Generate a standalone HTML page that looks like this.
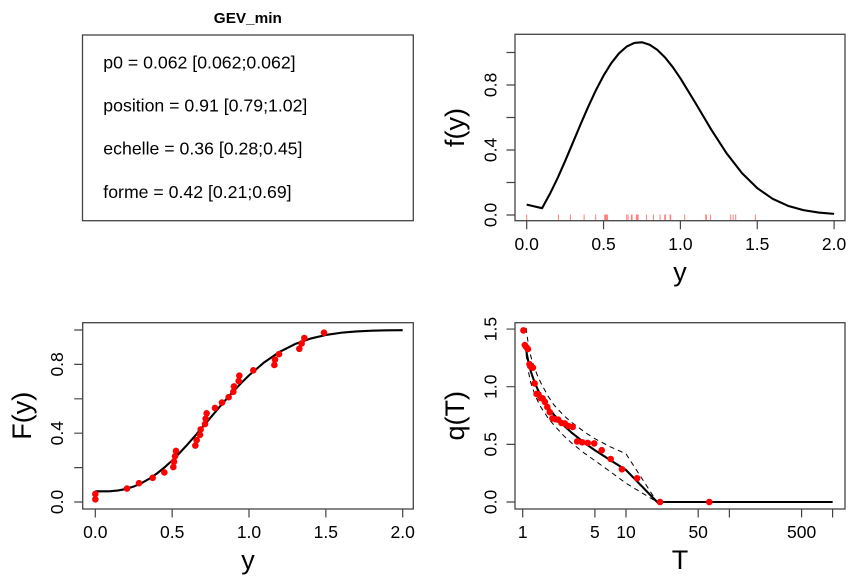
<!DOCTYPE html>
<html><head><meta charset="utf-8"><style>html,body{margin:0;padding:0;background:#fff}svg{display:block}</style></head>
<body>
<svg width="864" height="576" viewBox="0 0 864 576" xmlns="http://www.w3.org/2000/svg" font-family="'Liberation Sans', Arial, sans-serif">
<rect width="864" height="576" fill="#fff"/>

<!-- ===== Top-left: parameter box ===== -->
<text x="247.8" y="23" font-size="15" font-weight="bold" text-anchor="middle" textLength="68" lengthAdjust="spacingAndGlyphs">GEV_min</text>
<rect x="82.5" y="35" width="330.8" height="185.7" fill="none" stroke="#444" stroke-width="1.3"/>
<g font-size="17.7" fill="#000">
<text x="103.3" y="68.3">p0 = 0.062 [0.062;0.062]</text>
<text x="103.3" y="111.5">position = 0.91 [0.79;1.02]</text>
<text x="103.3" y="154.7">echelle = 0.36 [0.28;0.45]</text>
<text x="103.3" y="197.8">forme = 0.42 [0.21;0.69]</text>
</g>

<!-- ===== Top-right: density ===== -->
<g stroke="red" stroke-opacity="0.5" stroke-width="1">
<path d="M526.7 214.5V220.7M526.7 214.5V220.7M558.4 214.5V220.7M570.4 214.5V220.7M584.1 214.5V220.7M595.7 214.5V220.7M604.7 214.5V220.7M605.4 214.5V220.7M606.4 214.5V220.7M607.4 214.5V220.7M626.7 214.5V220.7M628.1 214.5V220.7M631.4 214.5V220.7M632.1 214.5V220.7M636.4 214.5V220.7M637.1 214.5V220.7M638.1 214.5V220.7M646.4 214.5V220.7M653.4 214.5V220.7M660.1 214.5V220.7M664.7 214.5V220.7M665.4 214.5V220.7M670.1 214.5V220.7M670.7 214.5V220.7M684.7 214.5V220.7M705.7 214.5V220.7M706.4 214.5V220.7M710.4 214.5V220.7M730.7 214.5V220.7M733.1 214.5V220.7M735.7 214.5V220.7M755.4 214.5V220.7"/>
</g>
<polyline fill="none" stroke="#000" stroke-width="2.1" stroke-linejoin="round" points="526.7,204.6 542.07,208.2 545.91,201.16 549.76,194.18 557.44,178.41 565.13,161.03 572.81,142.82 580.5,124.52 588.18,106.81 595.87,90.32 603.55,75.6 611.24,63.17 618.92,53.42 626.61,46.61 634.29,42.9 641.98,42.3 649.66,44.7 657.35,49.86 665.03,57.46 672.72,67.09 680.4,78.29 695.77,103.5 711.14,129.43 726.51,153.19 741.88,172.98 757.25,188.11 772.62,198.82 787.99,205.85 803.36,210.13 818.73,212.57 834.1,213.86"/>
<rect x="515" y="34.3" width="330" height="186.4" fill="none" stroke="#444" stroke-width="1.3"/>
<g stroke="#444" stroke-width="1.2">
<path d="M526.7 220.7V229.2M603.55 220.7V229.2M680.4 220.7V229.2M757.25 220.7V229.2M834.1 220.7V229.2"/>
<path d="M515 215H506.5M515 182.5H506.5M515 150H506.5M515 117.5H506.5M515 85H506.5M515 52.5H506.5"/>
</g>
<g font-size="17.5" text-anchor="middle">
<text x="526.7" y="250">0.0</text>
<text x="603.55" y="250">0.5</text>
<text x="680.4" y="250">1.0</text>
<text x="757.25" y="250">1.5</text>
<text x="834.1" y="250">2.0</text>
<text transform="translate(496.3,215) rotate(-90)">0.0</text>
<text transform="translate(496.3,150) rotate(-90)">0.4</text>
<text transform="translate(496.3,85) rotate(-90)">0.8</text>
</g>
<text x="680" y="281" font-size="27" text-anchor="middle">y</text>
<text transform="translate(464,127.5) rotate(-90)" font-size="27" text-anchor="middle">f(y)</text>

<!-- ===== Bottom-left: CDF ===== -->
<polyline fill="none" stroke="#000" stroke-width="2.1" stroke-linejoin="round" points="95.3,491.34 102.99,491.34 107.6,491.28 110.67,491.17 118.36,490.43 126.04,488.92 133.73,486.53 141.41,483.2 149.1,478.89 156.78,473.63 164.47,467.46 172.15,460.47 179.84,452.75 187.52,444.44 195.21,435.7 202.89,426.67 210.58,417.54 218.26,408.45 225.95,399.56 233.63,391.01 241.32,382.92 249,375.38 264.37,362.22 279.74,351.8 295.11,344.03 310.48,338.58 325.85,334.97 341.22,332.73 356.59,331.42 371.96,330.69 387.33,330.32 402.7,330.14"/>
<g fill="#ff0000">
<circle cx="95.33" cy="499.31" r="3.3"/><circle cx="95.33" cy="493.94" r="3.3"/><circle cx="127" cy="488.56" r="3.3"/><circle cx="139" cy="483.19" r="3.3"/><circle cx="152.67" cy="477.81" r="3.3"/><circle cx="164.33" cy="472.44" r="3.3"/><circle cx="173.33" cy="467.06" r="3.3"/><circle cx="174" cy="461.69" r="3.3"/><circle cx="175" cy="456.31" r="3.3"/><circle cx="176" cy="450.94" r="3.3"/><circle cx="195.33" cy="445.56" r="3.3"/><circle cx="196.67" cy="440.19" r="3.3"/><circle cx="200" cy="434.81" r="3.3"/><circle cx="200.67" cy="429.44" r="3.3"/><circle cx="205" cy="424.06" r="3.3"/><circle cx="205.67" cy="418.69" r="3.3"/><circle cx="206.67" cy="413.31" r="3.3"/><circle cx="215" cy="407.94" r="3.3"/><circle cx="222" cy="402.56" r="3.3"/><circle cx="228.67" cy="397.19" r="3.3"/><circle cx="233.33" cy="391.81" r="3.3"/><circle cx="234" cy="386.44" r="3.3"/><circle cx="238.67" cy="381.06" r="3.3"/><circle cx="239.33" cy="375.69" r="3.3"/><circle cx="253.33" cy="370.31" r="3.3"/><circle cx="274.33" cy="364.94" r="3.3"/><circle cx="275" cy="359.56" r="3.3"/><circle cx="279" cy="354.19" r="3.3"/><circle cx="299.33" cy="348.81" r="3.3"/><circle cx="301.67" cy="343.44" r="3.3"/><circle cx="304.33" cy="338.06" r="3.3"/><circle cx="324" cy="332.69" r="3.3"/>
</g>
<rect x="82.7" y="322.7" width="330.6" height="186.3" fill="none" stroke="#444" stroke-width="1.3"/>
<g stroke="#444" stroke-width="1.2">
<path d="M95.3 509V517.5M172.15 509V517.5M249 509V517.5M325.85 509V517.5M402.7 509V517.5"/>
<path d="M82.7 502H74.2M82.7 467.6H74.2M82.7 433.2H74.2M82.7 398.8H74.2M82.7 364.4H74.2M82.7 330H74.2"/>
</g>
<g font-size="17.5" text-anchor="middle">
<text x="95.3" y="538">0.0</text>
<text x="172.15" y="538">0.5</text>
<text x="249" y="538">1.0</text>
<text x="325.85" y="538">1.5</text>
<text x="402.7" y="538">2.0</text>
<text transform="translate(63,502) rotate(-90)">0.0</text>
<text transform="translate(63,433.2) rotate(-90)">0.4</text>
<text transform="translate(63,364.4) rotate(-90)">0.8</text>
</g>
<text x="248" y="569" font-size="27" text-anchor="middle">y</text>
<text transform="translate(31,415.8) rotate(-90)" font-size="27" text-anchor="middle">F(y)</text>

<!-- ===== Bottom-right: return level ===== -->
<g fill="none" stroke="#000" stroke-width="1" stroke-dasharray="5,4">
<polyline points="526.15,327.84 526.98,335.22 528.97,347.72 530.88,356.57 534.47,368.16 537.79,376.37 540.89,382.97 547.81,395.76 553.8,404.76 563.81,415.64 571.99,422.59 584.89,432.25 594.9,438.7 610.0,446.67 626.0,453.84 657.1,502 832.6,502"/>
<polyline points="526.15,354.36 526.98,361.74 528.97,374.24 530.88,383.09 534.47,393.53 537.79,401.16 540.89,407.19 547.81,417.67 553.8,424.93 563.81,435.82 571.99,443.35 584.89,453.59 594.9,460.61 610.0,471.46 626.0,483.24 657.1,502 832.6,502"/>
</g>
<polyline fill="none" stroke="#000" stroke-width="2.1" stroke-linejoin="round" points="526.15,349.75 526.98,354.82 528.97,364.44 530.88,371.56 534.47,382.0 537.79,389.63 540.89,395.66 547.81,406.71 553.8,414.56 563.81,425.44 571.99,432.97 584.89,443.21 594.9,450.24 610.0,459.93 626.0,469.98 657.1,502 832.6,502"/>
<g fill="#ff0000">
<circle cx="709.28" cy="502" r="3.3"/><circle cx="659.99" cy="502" r="3.3"/><circle cx="637.07" cy="478.25" r="3.3"/><circle cx="621.98" cy="469.25" r="3.3"/><circle cx="610.71" cy="459" r="3.3"/><circle cx="601.7" cy="450.23" r="3.3"/><circle cx="594.21" cy="443.43" r="3.3"/><circle cx="587.79" cy="442.97" r="3.3"/><circle cx="582.17" cy="442.27" r="3.3"/><circle cx="577.18" cy="441.47" r="3.3"/><circle cx="572.69" cy="426.94" r="3.3"/><circle cx="568.61" cy="426.02" r="3.3"/><circle cx="564.87" cy="423.48" r="3.3"/><circle cx="561.42" cy="422.9" r="3.3"/><circle cx="558.21" cy="419.68" r="3.3"/><circle cx="555.22" cy="419.21" r="3.3"/><circle cx="552.41" cy="418.41" r="3.3"/><circle cx="549.78" cy="412.18" r="3.3"/><circle cx="547.29" cy="407" r="3.3"/><circle cx="544.92" cy="401.92" r="3.3"/><circle cx="542.68" cy="398.46" r="3.3"/><circle cx="540.54" cy="398" r="3.3"/><circle cx="538.5" cy="394.42" r="3.3"/><circle cx="536.55" cy="393.96" r="3.3"/><circle cx="534.68" cy="383.47" r="3.3"/><circle cx="532.89" cy="367.67" r="3.3"/><circle cx="531.16" cy="367.21" r="3.3"/><circle cx="529.5" cy="364.22" r="3.3"/><circle cx="527.9" cy="348.99" r="3.3"/><circle cx="526.35" cy="347.15" r="3.3"/><circle cx="524.85" cy="345.08" r="3.3"/><circle cx="523.41" cy="330.43" r="3.3"/>
</g>
<rect x="515" y="322.7" width="330" height="186.3" fill="none" stroke="#444" stroke-width="1.3"/>
<g stroke="#444" stroke-width="1.2">
<path d="M522.7 509V517.5M594.9 509V517.5M626 509V517.5M698.2 509V517.5M729.4 509V517.5M801.6 509V517.5M832.6 509V517.5"/>
<path d="M515 502H506.5M515 444.35H506.5M515 386.7H506.5M515 329.05H506.5"/>
</g>
<g font-size="17.5" text-anchor="middle">
<text x="522.7" y="538">1</text>
<text x="594.9" y="538">5</text>
<text x="626" y="538">10</text>
<text x="698.2" y="538">50</text>
<text x="801.6" y="538">500</text>
<text transform="translate(496.3,502) rotate(-90)">0.0</text>
<text transform="translate(496.3,444.35) rotate(-90)">0.5</text>
<text transform="translate(496.3,386.7) rotate(-90)">1.0</text>
<text transform="translate(496.3,329.05) rotate(-90)">1.5</text>
</g>
<text x="680" y="569" font-size="27" text-anchor="middle">T</text>
<text transform="translate(464,415.8) rotate(-90)" font-size="27" text-anchor="middle">q(T)</text>
</svg>
</body></html>
